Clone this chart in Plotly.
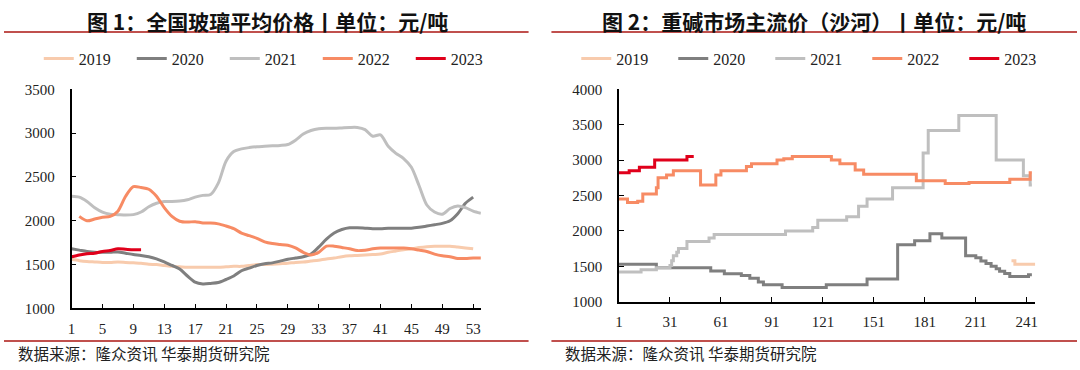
import plotly.graph_objects as go

# ---------------- data: left chart (weekly glass price) ----------------
weeks = list(range(1, 55))
glass_2019 = [1560,1545,1535,1530,1525,1525,1530,1525,1520,1515,
              1505,1500,1490,1480,1475,1470,1470,1470,1470,1470,
              1475,1480,1480,1490,1500,1500,1505,1510,1515,1525,
              1530,1540,1550,1565,1575,1590,1600,1605,1610,1615,
              1620,1640,1655,1670,1680,1695,1705,1710,1710,1710,
              1700,1690,1680]
glass_2020 = [1680,1665,1650,1640,1640,1640,1645,1630,1615,1605,
              1590,1565,1530,1490,1450,1370,1300,1280,1285,1295,
              1330,1370,1430,1460,1490,1510,1520,1540,1560,1575,
              1590,1620,1700,1790,1860,1900,1920,1920,1915,1910,
              1910,1915,1915,1915,1915,1925,1940,1955,1970,2000,
              2080,2200,2270]
glass_2021 = [2280,2270,2220,2150,2100,2075,2070,2065,2070,2100,
              2160,2200,2220,2220,2225,2240,2270,2290,2300,2430,
              2680,2790,2820,2835,2845,2850,2855,2860,2870,2920,
              2990,3030,3050,3055,3055,3060,3065,3065,3040,2965,
              2980,2850,2770,2710,2610,2400,2180,2100,2075,2140,
              2170,2150,2110,2085]
weeks_2022 = list(range(2, 55))
glass_2022 = [2050,2000,2020,2040,2050,2110,2280,2390,2380,
              2360,2280,2150,2050,1995,1985,1990,1975,1975,1965,
              1940,1910,1860,1830,1800,1760,1740,1730,1720,1690,
              1640,1610,1640,1710,1710,1695,1680,1660,1665,1680,
              1690,1690,1690,1690,1680,1665,1650,1620,1600,1590,
              1570,1570,1575,1575]
glass_2023 = [1590,1610,1625,1630,1650,1660,1680,1675,1670,1670]
left_xticks = [1,5,9,13,17,21,25,29,33,37,41,45,49,53]

# ---------------- data: right chart (soda ash, step change points) ----------------
soda_2019_day = [232, 234, 246]
soda_2019 = [1580, 1530, 1530]
soda_2020_day = [1,23,55,63,73,78,83,86,97,123,147,165,175,184,191,205,211,214,217,220,223,225,228,231,242,244]
soda_2020 = [1530,1480,1435,1395,1370,1330,1280,1240,1200,1240,1320,1805,1860,1960,1900,1650,1620,1575,1540,1500,1465,1430,1400,1355,1380,1380]
soda_2021_day = [1,14,23,31,32,33,35,36,41,54,57,99,115,118,135,142,147,162,180,183,201,223,239,243,244]
soda_2021 = [1420,1450,1480,1510,1580,1650,1700,1750,1850,1900,1950,2000,2050,2150,2200,2350,2450,2610,3100,3420,3630,3000,2780,2650,2650]
soda_2022_day = [1,6,12,15,23,24,29,33,49,58,61,76,79,94,98,103,126,131,140,145,176,193,207,231,243,244]
soda_2022 = [2450,2400,2420,2520,2610,2750,2790,2850,2650,2790,2850,2910,2950,3000,3020,3050,3000,2950,2860,2800,2710,2670,2685,2730,2820,2820]
soda_2023_day = [1,7,13,22,41,45]
soda_2023 = [2820,2850,2900,3000,3050,3050]
right_xticks = [1,31,61,91,121,151,181,211,241]

years = ["2019", "2020", "2021", "2022", "2023"]
colors = ["#F8CBAD", "#7F7F7F", "#BFBFBF", "#F78B64", "#E0001B"]

W, H = 1080, 370
def px_x(p): return p / W
def px_y(p): return 1 - p / H

fig = go.Figure()

left_series = [(weeks[:53], glass_2019), (weeks[:53], glass_2020), (weeks, glass_2021),
               (weeks_2022, glass_2022), (weeks[:10], glass_2023)]
for (xs, ys), name, c in zip(left_series, years, colors):
    fig.add_trace(go.Scatter(x=xs, y=ys, name=name, mode="lines",
                             line=dict(color=c, width=3, shape="spline", smoothing=0.8),
                             xaxis="x", yaxis="y", legend="legend"))

right_series = [(soda_2019_day, soda_2019), (soda_2020_day, soda_2020), (soda_2021_day, soda_2021),
                (soda_2022_day, soda_2022), (soda_2023_day, soda_2023)]
for (xs, ys), name, c in zip(right_series, years, colors):
    fig.add_trace(go.Scatter(x=xs, y=ys, name=name, mode="lines",
                             line=dict(color=c, width=3, shape="hv"),
                             xaxis="x2", yaxis="y2", legend="legend2"))

tick_font = dict(family="Liberation Serif", size=15, color="#222222")
axis_common = dict(showgrid=False, zeroline=False, showline=True, linecolor="#000000",
                   linewidth=1.5, ticks="inside", ticklen=5, tickwidth=1.2,
                   tickcolor="#000000", tickfont=tick_font)

fig.update_layout(
    width=W, height=H, margin=dict(l=0, r=0, t=0, b=0),
    paper_bgcolor="white", plot_bgcolor="white", showlegend=True,
    xaxis=dict(domain=[px_x(68), px_x(480)], range=[1, 54], tickvals=left_xticks,
               anchor="y", ticklabelstandoff=6, **axis_common),
    yaxis=dict(domain=[px_y(314), px_y(85)], range=[1000, 3500], dtick=500,
               anchor="x", ticklabelstandoff=12, **axis_common),
    xaxis2=dict(domain=[px_x(619), px_x(1038)], range=[1, 246], tickvals=right_xticks,
                anchor="y2", ticklabelstandoff=6, **axis_common),
    yaxis2=dict(domain=[px_y(307), px_y(85)], range=[1000, 4000], dtick=500,
                anchor="x2", ticklabelstandoff=12, **axis_common),
    legend=dict(orientation="h", x=px_x(35), y=px_y(53), xanchor="left", yanchor="middle",
                font=dict(family="Liberation Serif", size=16, color="#222222"),
                entrywidth=48, entrywidthmode="pixels", bgcolor="rgba(0,0,0,0)"),
    legend2=dict(orientation="h", x=px_x(576), y=px_y(53), xanchor="left", yanchor="middle",
                 font=dict(family="Liberation Serif", size=16, color="#222222"),
                 entrywidth=52, entrywidthmode="pixels", bgcolor="rgba(0,0,0,0)"),
)

title_font = dict(family="Noto Sans CJK SC", size=21, color="#111111")
fig.add_annotation(text="<b>图 1：全国玻璃平均价格丨单位：元/吨</b>", x=px_x(265), y=px_y(14),
                   xref="paper", yref="paper", xanchor="center", yanchor="middle",
                   showarrow=False, font=title_font)
fig.add_annotation(text="<b>图 2：重碱市场主流价（沙河）丨单位：元/吨</b>", x=px_x(815), y=px_y(14),
                   xref="paper", yref="paper", xanchor="center", yanchor="middle",
                   showarrow=False, font=title_font)
foot_font = dict(family="Noto Sans CJK SC", size=15.5, color="#222222")
fig.add_annotation(text="数据来源：隆众资讯 华泰期货研究院", x=px_x(12), y=px_y(361),
                   xref="paper", yref="paper", xanchor="left", yanchor="middle",
                   showarrow=False, font=foot_font)
fig.add_annotation(text="数据来源：隆众资讯 华泰期货研究院", x=px_x(563), y=px_y(361),
                   xref="paper", yref="paper", xanchor="left", yanchor="middle",
                   showarrow=False, font=foot_font)

rule_color = "#C0504D"
for (x0, x1) in [(0, 528), (551, 1080)]:
    for yy in (25, 348):
        fig.add_shape(type="line", xref="paper", yref="paper",
                      x0=px_x(x0), x1=px_x(x1), y0=px_y(yy), y1=px_y(yy),
                      line=dict(color=rule_color, width=2))

fig.write_html("out.html", config={"displayModeBar": False},
               post_script="document.body.style.margin='0';document.body.style.overflow='hidden';")
